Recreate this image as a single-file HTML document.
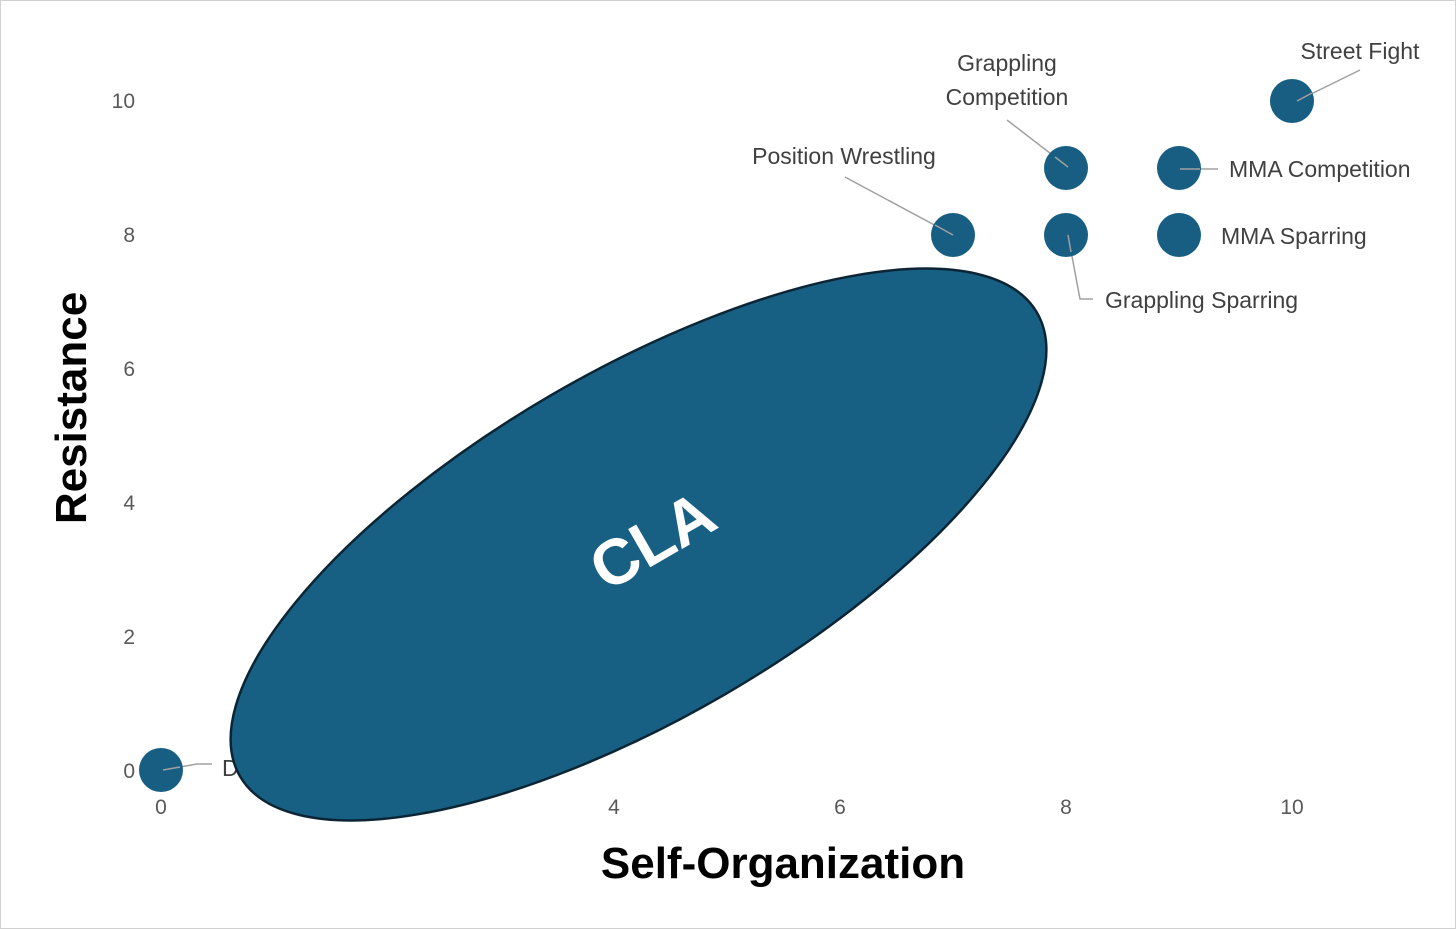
<!DOCTYPE html>
<html><head><meta charset="utf-8"><style>
html,body{margin:0;padding:0;background:#fff;}
svg{display:block;}
</style></head><body>
<svg width="1456" height="929" viewBox="0 0 1456 929" xmlns="http://www.w3.org/2000/svg">
<rect x="0.5" y="0.5" width="1455" height="928" fill="#fff" stroke="#d0d0d0"/>
<g font-family="Liberation Sans, sans-serif" font-size="21" fill="#595959">
<text x="135" y="108" text-anchor="end">10</text>
<text x="135" y="242" text-anchor="end">8</text>
<text x="135" y="376" text-anchor="end">6</text>
<text x="135" y="510" text-anchor="end">4</text>
<text x="135" y="644" text-anchor="end">2</text>
<text x="135" y="778" text-anchor="end">0</text>
<text x="161" y="814" text-anchor="middle">0</text>
<text x="614" y="814" text-anchor="middle">4</text>
<text x="840" y="814" text-anchor="middle">6</text>
<text x="1066" y="814" text-anchor="middle">8</text>
<text x="1292" y="814" text-anchor="middle">10</text>
</g>
<g stroke="#a0a0a0" stroke-width="1.5" fill="none">
<polyline points="163,770 197,764 212,764"/>
<line x1="1297" y1="101" x2="1360" y2="70"/>
<line x1="1068" y1="167" x2="1007" y2="120"/>
<line x1="953" y1="235" x2="845" y2="177"/>
<line x1="1180" y1="169" x2="1218" y2="169"/>
<polyline points="1068,235 1080,299 1093,299"/>
</g>
<g fill="#175e82">
<circle cx="161" cy="770" r="22"/>
<circle cx="953" cy="235" r="22"/>
<circle cx="1066" cy="235" r="22"/>
<circle cx="1066" cy="168" r="22"/>
<circle cx="1179" cy="235" r="22"/>
<circle cx="1179" cy="168" r="22"/>
<circle cx="1292" cy="101" r="22"/>
</g>
<g stroke="#a0a0a0" stroke-width="1.5" fill="none">
<line x1="163" y1="770" x2="180" y2="767"/>
<line x1="1297" y1="101" x2="1312" y2="93"/>
<line x1="1068" y1="167" x2="1055" y2="157"/>
<line x1="953" y1="235" x2="935" y2="225"/>
<line x1="1180" y1="169" x2="1200" y2="169"/>
<line x1="1068" y1="235" x2="1071" y2="252"/>
</g>
<g font-family="Liberation Sans, sans-serif" font-size="23" fill="#404040">
<text x="222" y="776">D</text>
<text x="1360" y="59" text-anchor="middle">Street Fight</text>
<text x="1007" y="71" text-anchor="middle">Grappling</text>
<text x="1007" y="105" text-anchor="middle">Competition</text>
<text x="844" y="164" text-anchor="middle">Position Wrestling</text>
<text x="1229" y="177">MMA Competition</text>
<text x="1221" y="244">MMA Sparring</text>
<text x="1105" y="308">Grappling Sparring</text>
</g>
<ellipse cx="638.5" cy="544.5" rx="461" ry="173" transform="rotate(-30.2 638.5 544.5)" fill="#186083" stroke="#0b2535" stroke-width="2.5"/>
<text x="0" y="0" transform="translate(655 545) rotate(-30)" text-anchor="middle" dominant-baseline="middle" font-family="Liberation Sans, sans-serif" font-weight="bold" font-size="64" fill="#fff">CLA</text>
<text transform="translate(86 408) rotate(-90)" text-anchor="middle" font-family="Liberation Sans Narrow, Liberation Sans, sans-serif" font-weight="bold" font-size="44" fill="#000">Resistance</text>
<text x="783" y="878" text-anchor="middle" font-family="Liberation Sans Narrow, Liberation Sans, sans-serif" font-weight="bold" font-size="44" fill="#000">Self-Organization</text>
</svg>
</body></html>
